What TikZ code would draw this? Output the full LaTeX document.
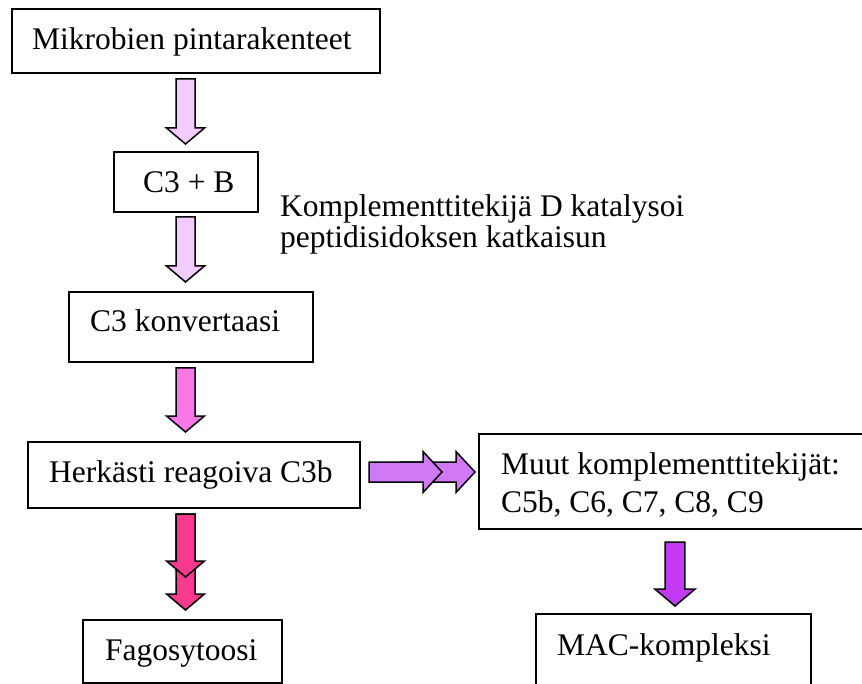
\documentclass[tikz,border=0pt]{standalone}
\usepackage{fontspec}
\setmainfont{Liberation Serif}
\begin{document}
\begin{tikzpicture}[x=1pt,y=-1pt,
  boxst/.style={draw=black, line width=1.5pt, fill=white},
  txt/.style={inner sep=0pt, anchor=base west, font=\fontsize{31.5}{38}\selectfont},
  arr/.style={draw=black, line width=1.5pt, line join=miter},
]
\useasboundingbox (0,0) rectangle (862,684);
\begin{scope}
\clip (0,0) rectangle (862,684);
\newcommand\downarrowshape[5]{% x, top, tip, color, halfwidth scale
  \filldraw[arr, fill=#4] (#1-9.5*#5,#2) -- (#1+9.5*#5,#2) -- (#1+9.5*#5,#3-16*#5) -- (#1+19*#5,#3-16*#5) -- (#1,#3) -- (#1-19*#5,#3-16*#5) -- (#1-9.5*#5,#3-16*#5) -- cycle;}
\newcommand\rightarrowshape[4]{% y, start, tip, color
  \filldraw[arr, fill=#4] (#2,#1-10) -- (#3-19,#1-10) -- (#3-19,#1-20.5) -- (#3,#1) -- (#3-19,#1+20.5) -- (#3-19,#1+10) -- (#2,#1+10) -- cycle;}
\definecolor{lightarr}{HTML}{F2CCFF}
\definecolor{midarr}{HTML}{F878E8}
\definecolor{pinkarr}{HTML}{FA3A8E}
\definecolor{horizarr}{HTML}{D07AF8}
\definecolor{purparr}{HTML}{C23AF2}

% boxes
\node[boxst, minimum width=368pt, minimum height=64pt, inner sep=0pt] (b1) at (196,41) {};
\node[txt] (t1) at (32,50) {Mikrobien pintarakenteet};
\node[boxst, minimum width=144pt, minimum height=60pt, inner sep=0pt] (b2) at (186,182) {};
\node[txt] (t2) at (143,193) {C3 + B};
\node[txt] (k1) at (280,217) {Komplementtitekijä D katalysoi};
\node[txt] (k2) at (280,248) {peptidisidoksen katkaisun};
\node[boxst, minimum width=244pt, minimum height=70pt, inner sep=0pt] (b3) at (191,327) {};
\node[txt] (t3) at (90,332) {C3 konvertaasi};
\node[boxst, minimum width=332pt, minimum height=66pt, inner sep=0pt] (b4) at (194,475) {};
\node[txt] (t4) at (49,482) {Herkästi reagoiva C3b};
\node[boxst, minimum width=400pt, minimum height=95pt, inner sep=0pt] (b5) at (679,481.5) {};
\node[txt] (t5a) at (501,474) {Muut komplementtitekijät:};
\node[txt] (t5b) at (501,512) {C5b, C6, C7, C8, C9};
\node[boxst, minimum width=199pt, minimum height=63pt, inner sep=0pt] (b6) at (182.5,651.5) {};
\node[txt] (t6) at (105,660) {Fagosytoosi};
\node[boxst, minimum width=275pt, minimum height=80pt, inner sep=0pt] (b7) at (673.5,654) {};
\node[txt] (t7) at (557,655) {MAC-kompleksi};

% arrows
\downarrowshape{185.5}{79}{144}{lightarr}{1}
\downarrowshape{185.5}{217}{282}{lightarr}{1}
\downarrowshape{185.5}{368}{432}{midarr}{1}
\downarrowshape{185.5}{514}{610}{pinkarr}{1}
\downarrowshape{185.5}{514}{577}{pinkarr}{1}
\downarrowshape{675}{542}{606}{purparr}{1.05}
\rightarrowshape{472}{400}{475}{horizarr}
\rightarrowshape{472}{369}{442}{horizarr}
\end{scope}
\end{tikzpicture}
\end{document}
